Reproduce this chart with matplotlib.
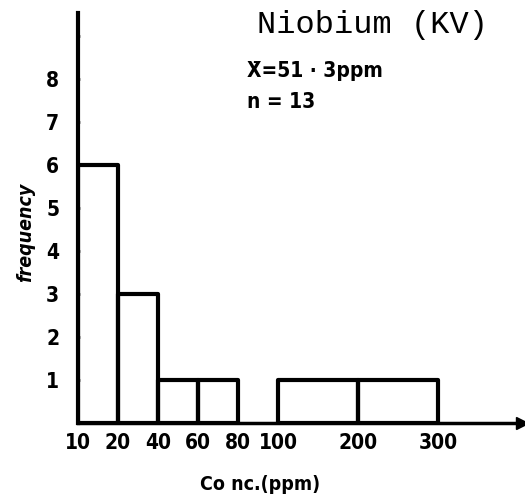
import numpy as np
import matplotlib
matplotlib.use("Agg")
import matplotlib.pyplot as plt

# Data: histogram of Nb concentrations (unequal bins, hand-drawn scale)
bin_left = [10, 20, 40, 60, 100, 200]
bin_right = [20, 40, 60, 80, 200, 300]
freq = [6, 3, 1, 1, 1, 1]
x_ticks = [10, 20, 40, 60, 80, 100, 200, 300]
y_ticks = [1, 2, 3, 4, 5, 6, 7, 8, 9]
y_labels = ["1", "2", "3", "4", "5", "6", "7", "8", ""]

# piecewise axis: each of 10..100 edges one step, 100..300 two steps each
scale_vals = [10, 20, 40, 60, 80, 100, 200, 300, 400, 500]
scale_pos = [0, 1, 2, 3, 4, 5, 7, 9, 11, 13]


def forward(x):
    return np.interp(x, scale_vals, scale_pos)


def inverse(p):
    return np.interp(p, scale_pos, scale_vals)


narrow = ["DejaVu Sans"]

fig = plt.figure(figsize=(5.25, 5.04), dpi=100)
ax = fig.add_axes([0.1486, 0.1607, 0.8457, 0.8135])
ax.set_xscale("function", functions=(forward, inverse))

widths = [r - l for l, r in zip(bin_left, bin_right)]
ax.bar(bin_left, freq, width=widths, align="edge", facecolor="none",
       edgecolor="black", linewidth=3, joinstyle="round", zorder=3)

ax.set_xlim(10, 405)
ax.set_ylim(0, 9.53)

for s in ["top", "right"]:
    ax.spines[s].set_visible(False)
ax.spines["left"].set_linewidth(3)
ax.spines["bottom"].set_linewidth(2.5)
ax.plot([1], [0], marker=">", color="black", markersize=9,
        transform=ax.transAxes, clip_on=False)

ax.set_xticks(x_ticks)
ax.set_xticklabels([str(v) for v in x_ticks])
ax.xaxis.set_minor_locator(matplotlib.ticker.NullLocator())
ax.tick_params(axis="x", length=0, pad=7)
ax.set_yticks(y_ticks)
ax.set_yticklabels(y_labels)
ax.tick_params(axis="y", length=3, width=2, color="#777777",
               direction="inout", pad=12)

for lab in ax.get_xticklabels() + ax.get_yticklabels():
    lab.set_fontfamily(narrow)
    lab.set_fontweight("bold")
    lab.set_fontstretch("condensed")
    lab.set_fontsize(15)

ax.set_xlabel("Co nc.(ppm)", fontfamily=narrow, fontweight="bold",
              fontstretch="condensed", fontsize=14, labelpad=16)
ax.xaxis.label.set_x(0.41)
ax.set_ylabel("frequency", fontfamily=narrow, fontweight="bold",
              fontstretch="condensed", fontstyle="italic", fontsize=14,
              labelpad=8)
ax.yaxis.label.set_y(0.466)

fig.text(0.709, 0.9345, "Niobium (KV)", ha="center", va="baseline",
         fontfamily=["Liberation Mono", "DejaVu Sans Mono"], fontsize=23)
fig.text(0.470, 0.847, "X\u0304=51 \u00b7 3ppm", ha="left", va="baseline",
         fontfamily=narrow, fontweight="bold", fontstretch="condensed",
         fontsize=15)
fig.text(0.470, 0.786, "n = 13", ha="left", va="baseline",
         fontfamily=narrow, fontweight="bold", fontstretch="condensed",
         fontsize=15)

fig.savefig("out.png", dpi=100)
